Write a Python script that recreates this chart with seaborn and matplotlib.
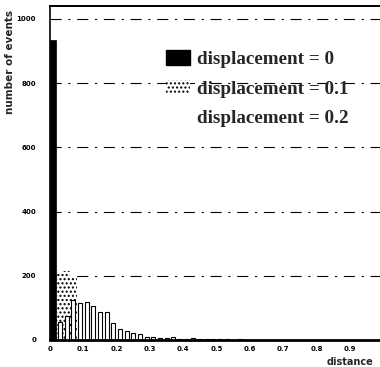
import numpy as np
import pandas as pd
import matplotlib
matplotlib.use("Agg")
import matplotlib.pyplot as plt
from matplotlib.patches import Patch
import seaborn as sns

# Histogram bins (width 0.02 from 0 to 1) and event counts per bin for each displacement
bin_width = 0.02
bin_centers = np.round(np.arange(0.01, 1.0, bin_width), 3)

counts_disp0 = [935] + [0] * 49
counts_disp01 = [80, 205, 215, 200] + [0] * 46
counts_disp02 = [20, 57, 74, 126, 114, 119, 107, 87, 87, 54,
                 33, 29, 21, 19, 10, 8, 6, 5, 8, 4,
                 3, 5, 3, 3, 2, 4, 2, 1, 2, 1] + [0] * 20

legend_labels = ["displacement = 0", "displacement = 0.1", "displacement = 0.2"]
x_ticks = [0, 0.1, 0.2, 0.3, 0.4, 0.5, 0.6, 0.7, 0.8, 0.9]
x_ticklabels = ["0", "0.1", "0.2", "0.3", "0.4", "0.5", "0.6", "0.7", "0.8", "0.9"]
y_ticks = [0, 200, 400, 600, 800, 1000]

df = pd.DataFrame({
    "distance": bin_centers,
    "d0": counts_disp0,
    "d01": counts_disp01,
    "d02": counts_disp02,
})

sns.set_style("white")
plt.rcParams["hatch.linewidth"] = 1.0

fig = plt.figure(figsize=(3.8, 3.67), dpi=100)
ax = fig.add_axes([0.1316, 0.0736, 0.8684, 0.9101])

# gridlines behind the bars
for yv in y_ticks[1:]:
    ax.axhline(yv, color="black", lw=0.8, ls=(0, (10, 6, 2, 6)), zorder=0.5)

hist_kw = dict(data=df, x="distance", binwidth=bin_width, binrange=(0, 1), ax=ax)

# displacement = 0.1 : dotted bars
sns.histplot(weights="d01", color="white", edgecolor="black", linewidth=0,
             hatch="....", alpha=1, shrink=1.0, zorder=1, **hist_kw)
# displacement = 0.2 : hollow outlined bars
sns.histplot(weights="d02", color="white", edgecolor="black", linewidth=0.8,
             alpha=1, shrink=0.62, zorder=2, **hist_kw)
# displacement = 0 : solid black bar
sns.histplot(weights="d0", color="black", edgecolor="black", linewidth=0.5,
             alpha=1, shrink=0.9, zorder=3, **hist_kw)

ax.set_xlim(0, 0.99)
ax.set_ylim(0, 1040)
ax.set_xticks(x_ticks)
ax.set_xticklabels(x_ticklabels)
ax.set_yticks(y_ticks)

for sp in ["left", "top", "bottom"]:
    ax.spines[sp].set_visible(True)
    ax.spines[sp].set_color("black")
ax.spines["left"].set_linewidth(1.2)
ax.spines["top"].set_linewidth(1.4)
ax.spines["bottom"].set_linewidth(2.0)
ax.spines["right"].set_visible(False)

ax.tick_params(axis="both", direction="in", length=3, width=1, colors="black",
               labelsize=5)
ax.tick_params(axis="x", pad=4)
ax.tick_params(axis="y", pad=10)
for lab in ax.get_xticklabels() + ax.get_yticklabels():
    lab.set_fontweight("bold")

ax.set_ylabel("number of events", fontsize=7.5, fontweight="bold")
ax.yaxis.set_label_coords(-0.106, 0.832)
ax.set_xlabel("distance", fontsize=7, fontweight="bold")
ax.xaxis.set_label_coords(0.909, -0.051)

handles = [
    Patch(facecolor="black", edgecolor="black"),
    Patch(facecolor="white", edgecolor="black", hatch="....", linewidth=0),
    Patch(facecolor="white", edgecolor="white", linewidth=0),
]
leg = ax.legend(handles, legend_labels, loc="upper left",
                bbox_to_anchor=(0.352, 0.867), frameon=False,
                prop={"family": "Liberation Serif", "weight": "bold", "size": 13.8},
                handlelength=1.25, handleheight=0.78, handletextpad=0.36,
                labelspacing=0.61, borderpad=0, borderaxespad=0)

fig.savefig("out.png", dpi=100)
